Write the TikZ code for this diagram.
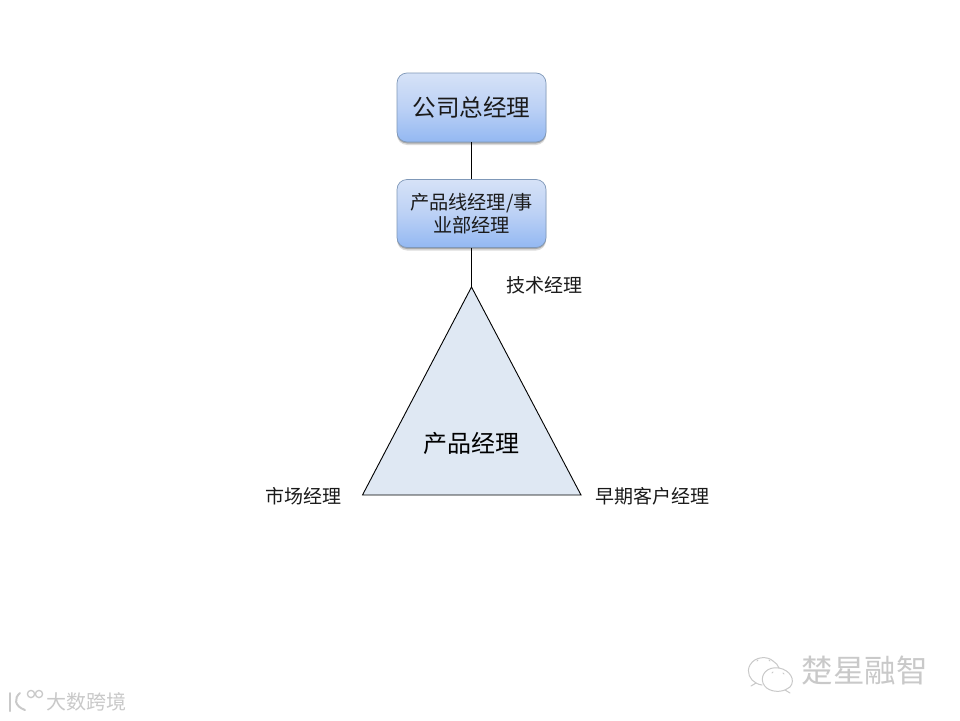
\documentclass[tikz,border=0pt]{standalone}
\usepackage{fontspec}
\setmainfont{Noto Sans CJK SC}
\usetikzlibrary{shadows,calc}
\definecolor{boxtop}{HTML}{D6E2F7}
\definecolor{boxmid}{HTML}{BCD1F5}
\definecolor{boxbot}{HTML}{93B8F2}
\definecolor{boxedge}{HTML}{7F98B8}
\definecolor{trifill}{HTML}{DFE8F3}
\definecolor{inktext}{HTML}{1A1A1A}
\definecolor{markgray}{HTML}{C9C9C9}
\tikzset{
  x=1pt,y=-1pt,
  mgrbox/.style={draw=boxedge,line width=0.7pt,rounded corners=10pt,minimum width=149pt,inner sep=0pt,
    align=center,text=inktext,top color=boxtop,bottom color=boxbot,middle color=boxmid,
    general shadow={shadow xshift=0pt,shadow yshift=-3pt,opacity=0.14,fill=black},
    general shadow={shadow xshift=0pt,shadow yshift=-1.5pt,opacity=0.22,fill=black}},
  link/.style={draw=black,line width=0.9pt},
  tri/.style={draw=black,line width=0.9pt,fill=trifill,line join=miter},
  lab/.style={inner sep=0pt,text=inktext,font=\fontsize{19}{23}\selectfont},
  wm/.style={inner sep=0pt,text=markgray},
  wmline/.style={draw=markgray,line width=1pt,line cap=round}
}
\begin{document}
\begin{tikzpicture}
\useasboundingbox (0,0) rectangle (960,720);
\fill[white] (0,0) rectangle (960,720);
\node[mgrbox,minimum height=69pt,font=\fontsize{23.6}{28}\selectfont] (gm) at (471.5,107.5) {公司总经理};
\node[mgrbox,minimum height=68pt,font=\fontsize{19.2}{23}\selectfont] (pl) at (471.5,213.5) {产品线经理/事\\业部经理};
\coordinate (apex) at (471.5,287);
\coordinate (bl) at (362.5,495);
\coordinate (br) at (581,495);
\draw[link] (gm) -- (pl);
\draw[link] (pl) -- (apex);
\draw[tri] (apex) -- (bl) -- (br) -- cycle;
\node[inner sep=0pt,text=black,font=\fontsize{24}{28}\selectfont] (pm) at (471,443) {产品经理};
\node[lab] (tech) at (544,285) {技术经理};
\node[lab] (mkt) at (303,496) {市场经理};
\node[lab] (early) at (652,496) {早期客户经理};
% watermarks
\node[wm,font=\fontsize{31.5}{34}\selectfont] (brand) at (864.5,671) {楚星融智};
\node[wm,font=\fontsize{20}{22}\selectfont] (src) at (86,702) {大数跨境};
% chat-bubble icon
\draw[wmline] (773,661) .. controls (768,656) and (755,656) .. (750,665) .. controls (746,672) and (750,680) .. (756,683) -- (751,686);
\draw[wmline] (756,683) .. controls (758,684) and (760,685) .. (762,685);
\draw[wmline] (773,661) .. controls (776,663) and (778,665) .. (779,668);
\draw[wmline] (779,668) .. controls (767,666) and (760,675) .. (763,683) .. controls (766,691) and (777,693) .. (785,690) -- (790,693);
\draw[wmline] (779,668) .. controls (790,670) and (796,680) .. (790,687) -- (785,690);
\draw[wmline] (757,661) -- (758,660);
\draw[wmline] (769,660) -- (770,661);
\draw[wmline] (772,673) -- (773,672);
\draw[wmline] (783,673) -- (784,674);
% source logo
\draw[markgray,line width=2pt,line cap=round] (10,693) -- (10,711);
\draw[markgray,line width=2pt,line cap=round] (20,693) .. controls (14,698) and (14,706) .. (25,710);
\draw[markgray,line width=1.3pt] (31,694) circle (3.6pt) (39,694) circle (3.6pt);
\end{tikzpicture}
\end{document}
